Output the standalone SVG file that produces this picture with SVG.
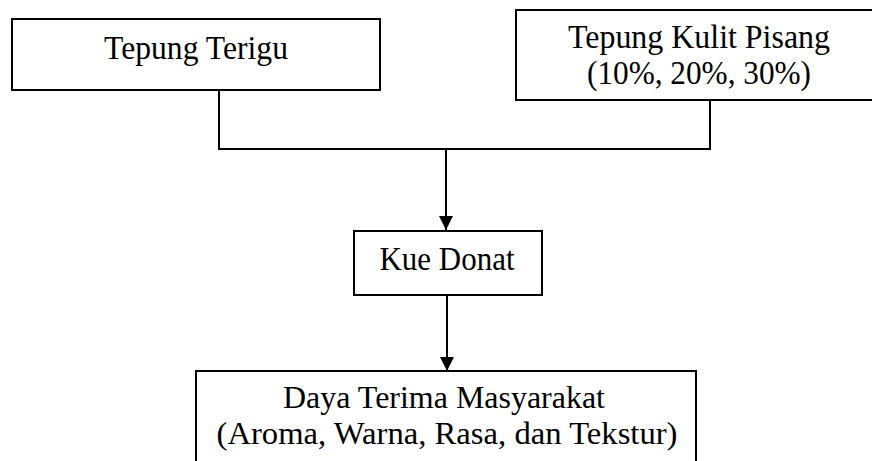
<svg xmlns="http://www.w3.org/2000/svg" width="872" height="461" viewBox="0 0 872 461">
<defs>
<style>
.box{fill:#fff;stroke:#000;stroke-width:2}
.lbl{font-family:"Liberation Serif","Times New Roman",serif;font-size:34px;fill:#000;text-anchor:middle}
.sm{font-size:32px}
.con{fill:none;stroke:#000;stroke-width:2}
</style>
<marker id="ah" viewBox="0 0 10 10" refX="10" refY="5" markerUnits="userSpaceOnUse" markerWidth="15" markerHeight="14" orient="auto">
<path d="M0,0 L10,5 L0,10 Z" fill="#000"/>
</marker>
</defs>
<rect width="872" height="461" fill="#fff"/>
<g id="connectors">
<polyline class="con" points="219,90 219,149 710,149 710,100"/>
<line class="con" x1="446" y1="149" x2="446" y2="230" marker-end="url(#ah)"/>
<line class="con" x1="447" y1="295" x2="447" y2="371" marker-end="url(#ah)"/>
</g>
<g id="tepung-terigu">
<rect class="box" x="12" y="19" width="368" height="71"/>
<text class="lbl" x="196" y="59" textLength="184" lengthAdjust="spacingAndGlyphs">Tepung Terigu</text>
</g>
<g id="tepung-kulit-pisang">
<rect class="box" x="516" y="10" width="366" height="90"/>
<text class="lbl" x="699" y="48" textLength="262" lengthAdjust="spacingAndGlyphs">Tepung Kulit Pisang</text>
<text class="lbl" x="699" y="84" textLength="224" lengthAdjust="spacingAndGlyphs">(10%, 20%, 30%)</text>
</g>
<g id="kue-donat">
<rect class="box" x="354" y="231" width="188" height="64"/>
<text class="lbl" x="447" y="270" textLength="135" lengthAdjust="spacingAndGlyphs">Kue Donat</text>
</g>
<g id="daya-terima">
<rect class="box" x="196" y="371" width="500" height="110"/>
<text class="lbl sm" x="444" y="408" textLength="322" lengthAdjust="spacingAndGlyphs">Daya Terima Masyarakat</text>
<text class="lbl sm" x="447" y="444" textLength="461" lengthAdjust="spacingAndGlyphs">(Aroma, Warna, Rasa, dan Tekstur)</text>
</g>
</svg>
